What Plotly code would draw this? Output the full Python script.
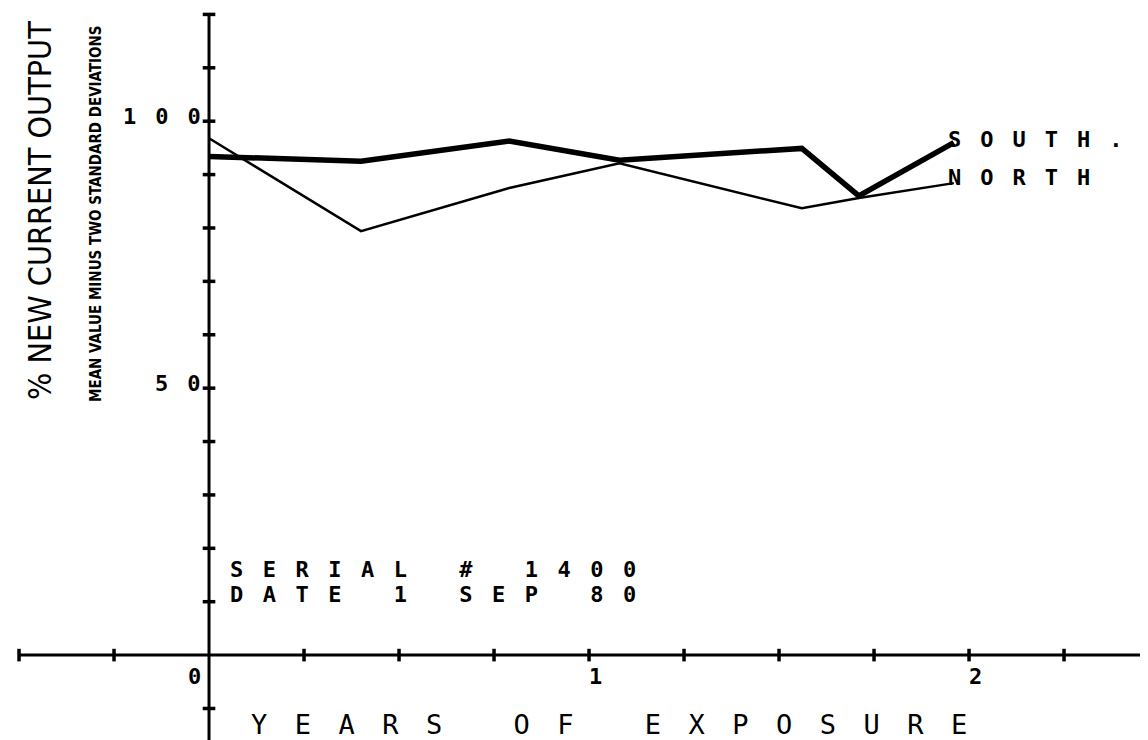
import plotly.graph_objects as go

# ---- data ----
years = [0.0, 0.40, 0.79, 1.08, 1.56, 1.71, 1.96]
south = [93.4, 92.5, 96.3, 92.7, 94.9, 86.0, 96.0]
north = [96.8, 79.4, 87.5, 92.1, 83.7, 85.6, 88.4]

x_tick_vals = [-0.5, -0.25, 0.25, 0.5, 0.75, 1.0, 1.25, 1.5, 1.75, 2.0, 2.25]
y_tick_vals = [-10, 10, 20, 30, 40, 50, 60, 70, 80, 90, 100, 110, 120]
x_label_vals = [0, 1, 2]
x_label_text = ["0", "1", "2"]
y_label_vals = [50, 100]
y_label_text = ["50", "100"]

series_labels = ["SOUTH.", "NORTH"]
info_lines = ["SERIAL # 1400", "DATE 1 SEP 80"]
x_title = "YEARS OF EXPOSURE"
y_title = "% NEW CURRENT OUTPUT"
y_subtitle = "MEAN VALUE MINUS TWO STANDARD DEVIATIONS"

# ---- styling ----
INK = "#000000"
MONO = "DejaVu Sans Mono"
COND = "DejaVu Sans Condensed, Roboto, DejaVu Sans, sans-serif"
X_RANGE = [-0.529, 2.492]
Y_RANGE = [-17.4, 121.2]


def spaced(text, px):
    return f'<span style="letter-spacing:{px}px">{text}</span>'


fig = go.Figure()

# axis lines (cross at the origin)
fig.add_trace(go.Scatter(x=[-0.5, 2.485], y=[0, 0], mode="lines",
                         line=dict(color=INK, width=3), hoverinfo="skip"))
fig.add_trace(go.Scatter(x=[0, 0], y=[120, Y_RANGE[0]], mode="lines",
                         line=dict(color=INK, width=3), hoverinfo="skip"))
# tick marks
fig.add_trace(go.Scatter(x=x_tick_vals, y=[0] * len(x_tick_vals), mode="markers",
                         marker=dict(symbol="line-ns-open", size=9, color=INK,
                                     line=dict(color=INK, width=3.5)),
                         hoverinfo="skip"))
fig.add_trace(go.Scatter(x=[0] * len(y_tick_vals), y=y_tick_vals, mode="markers",
                         marker=dict(symbol="line-ew-open", size=9, color=INK,
                                     line=dict(color=INK, width=3.5)),
                         hoverinfo="skip"))

# data series
fig.add_trace(go.Scatter(x=years, y=north, mode="lines", name="NORTH",
                         line=dict(color=INK, width=2.5)))
fig.add_trace(go.Scatter(x=years, y=south, mode="lines", name="SOUTH",
                         line=dict(color=INK, width=5.5)))

ann = []
# x tick labels
for v, t in zip(x_label_vals, x_label_text):
    ann.append(dict(x=v, y=0, text="<b>" + t + "</b>", showarrow=False,
                    xanchor="center", yanchor="middle",
                    xshift=-15 if v == 0 else 6, yshift=-21,
                    font=dict(family=MONO, size=22, color=INK)))
# y tick labels
for v, t in zip(y_label_vals, y_label_text):
    ann.append(dict(x=0, y=v, text="<b>" + spaced(t, 19) + "</b>", showarrow=False,
                    xanchor="right", yanchor="middle", xshift=13, yshift=5,
                    font=dict(family=MONO, size=22, color=INK)))

# series labels at the line ends
for i, (t, v) in enumerate(zip(series_labels, [south[-1], north[-1]])):
    ann.append(dict(x=years[-1], y=v, text="<b>" + spaced(t, 19) + "</b>", showarrow=False,
                    xanchor="left", yanchor="middle", xshift=-8,
                    yshift=(3 if i == 0 else 6),
                    font=dict(family=MONO, size=22, color=INK)))

# serial / date block
for i, t in enumerate(info_lines):
    ann.append(dict(x=0.05, y=16.0 - 4.6 * i, text="<b>" + spaced(t, 19.5) + "</b>",
                    showarrow=False, xanchor="left", yanchor="middle",
                    font=dict(family=MONO, size=22, color=INK)))

# axis titles
ann.append(dict(x=0.105, y=-13.0, text=spaced(x_title, 27.5), showarrow=False,
                xanchor="left", yanchor="middle",
                font=dict(family=MONO, size=27, color=INK)))
ann.append(dict(xref="paper", yref="paper", x=32 / 1148, y=1 - 203 / 740,
                text=y_title, showarrow=False, textangle=-90,
                xanchor="center", yanchor="middle",
                font=dict(family=COND, size=32, color=INK)))
ann.append(dict(xref="paper", yref="paper", x=88 / 1148, y=1 - 206 / 740,
                text="<b>" + y_subtitle + "</b>", showarrow=False, textangle=-90,
                xanchor="center", yanchor="middle",
                font=dict(family=COND, size=15, color=INK)))

fig.update_layout(
    width=1148, height=740,
    margin=dict(l=0, r=0, t=0, b=0),
    paper_bgcolor="white", plot_bgcolor="white",
    showlegend=False,
    xaxis=dict(range=X_RANGE, visible=False, fixedrange=True),
    yaxis=dict(range=Y_RANGE, visible=False, fixedrange=True),
    annotations=ann,
)

fig.write_html("out.html")
